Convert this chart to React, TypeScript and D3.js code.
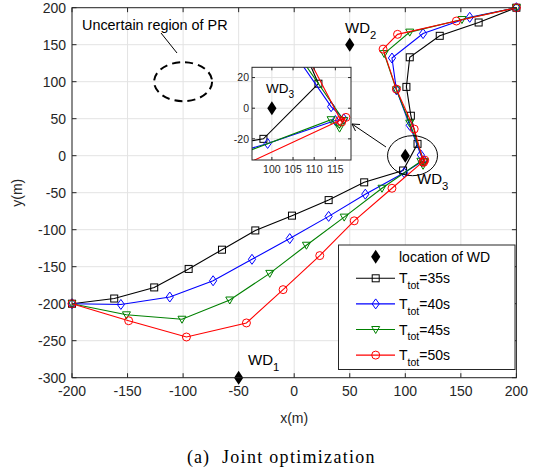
import * as d3 from 'd3'
import React from 'react'

// trajectories (x, y in metres) for each total time
const t35X = [-200, -162, -126, -95, -65, -35, -2, 31, 63, 98, 111, 105, 101, 104, 131, 166, 200]
const t35Y = [-200, -193, -178, -153, -127, -101, -81, -60, -36, -20, 16, 54, 93, 133, 162, 180, 200]
const t40X = [-200, -156, -112, -73, -38, -4, 31, 64, 99, 115, 117, 114, 104, 92, 88, 116, 158, 200]
const t40Y = [-200, -201, -191, -169, -140, -112, -82, -52, -23, -8, -7, 1, 41, 89, 132, 165, 187, 200]
const t45X = [-200, -151, -101, -58, -22, 11, 45, 79, 114, 116, 117, 104, 92, 81, 104, 151, 200]
const t45Y = [-200, -215, -221, -195, -159, -121, -83, -44, -7.5, -13, -8, 44, 89, 138, 167, 184, 200]
const t50X = [-200, -149, -97, -43, -10, 23, 54, 88, 116, 117.5, 116.5, 108, 92, 80, 93, 146, 200]
const t50Y = [-200, -223, -245, -226, -181, -135, -88, -44, -8, -6, -9, 36, 90, 144, 164, 182, 200]

const seriesLabels = ['35s', '40s', '45s', '50s']
const seriesColors = ['#000000', '#0000ff', '#008000', '#ff0000']
const seriesMarkers = ['square', 'diamond', 'triangle', 'circle']

// wireless devices
const wdX = [-50, 50, 100]
const wdY = [-300, 150, 0]
const wdNames = ['1', '2', '3']

const xTicks = [-200, -150, -100, -50, 0, 50, 100, 150, 200]
const yTicks = [-300, -250, -200, -150, -100, -50, 0, 50, 100, 150, 200]
const insetXTicks = [100, 105, 110, 115]
const insetYTicks = [-20, 0, 20]

const font = '"Liberation Sans", Arial, Helvetica, sans-serif'
const axisColor = '#262626'
const gridColor = '#e3e3e3'

const x = d3.scaleLinear().domain([-200, 200]).range([72, 516.4])
const y = d3.scaleLinear().domain([-300, 200]).range([377.7, 7.7])
const ix = d3.scaleLinear().domain([95.3, 118.7]).range([252, 351])
const iy = d3.scaleLinear().domain([-33.8, 26.7]).range([160, 67.3])

const series = [
    [t35X, t35Y],
    [t40X, t40Y],
    [t45X, t45Y],
    [t50X, t50Y],
].map(([xs, ys]) => xs.map((v, i) => [v, ys[i]] as [number, number]))

const Marker = (props: { type: string; cx: number; cy: number; color: string }) => {
    const { type, cx, cy, color } = props
    const common = { fill: 'none', stroke: color, strokeWidth: 1 }
    if (type === 'square') return <rect x={cx - 3.5} y={cy - 3.5} width={7} height={7} {...common} />
    if (type === 'diamond')
        return <path d={`M${cx},${cy - 5}L${cx + 3.6},${cy}L${cx},${cy + 5}L${cx - 3.6},${cy}Z`} {...common} />
    if (type === 'triangle')
        return <path d={`M${cx - 4},${cy - 3}L${cx + 4},${cy - 3}L${cx},${cy + 4}Z`} {...common} />
    return <circle cx={cx} cy={cy} r={4} {...common} />
}

const Diamond = (props: { cx: number; cy: number }) => (
    <path
        d={`M${props.cx},${props.cy - 7}L${props.cx + 4.6},${props.cy}L${props.cx},${props.cy + 7}L${props.cx - 4.6},${props.cy}Z`}
        fill="#000"
    />
)

const Sub = (props: { x: number; y: number; main: string; sub: string; rest?: string; size: number }) => (
    <text x={props.x} y={props.y} fontSize={props.size} fill="#000">
        {props.main}
        <tspan fontSize={props.size * 0.75} dy={props.size * 0.4}>
            {props.sub}
        </tspan>
        {props.rest ? <tspan dy={-props.size * 0.4}>{props.rest}</tspan> : null}
    </text>
)

const App = () => {
    const line = d3
        .line<[number, number]>()
        .x((d) => x(d[0]))
        .y((d) => y(d[1]))
    const iline = d3
        .line<[number, number]>()
        .x((d) => ix(d[0]))
        .y((d) => iy(d[1]))

    const [x0, x1] = x.range()
    const [y0, y1] = [y(200), y(-300)]
    const [ix0, ix1] = ix.range()
    const [iy1, iy0] = iy.range()

    return (
        <div style={{ position: 'absolute', left: 0, top: 0 }}>
            <svg width={536} height={470} style={{ display: 'block', fontFamily: font }}>
                <rect width={536} height={470} fill="#fff" />
                <defs>
                    <clipPath id="inset-clip">
                        <rect x={ix0} y={iy0} width={ix1 - ix0} height={iy1 - iy0} />
                    </clipPath>
                </defs>

                {/* grid */}
                {xTicks.map((t) => (
                    <line key={`gx${t}`} x1={x(t)} x2={x(t)} y1={y0} y2={y1} stroke={gridColor} />
                ))}
                {yTicks.map((t) => (
                    <line key={`gy${t}`} x1={x0} x2={x1} y1={y(t)} y2={y(t)} stroke={gridColor} />
                ))}

                {/* ticks inside the box */}
                {xTicks.map((t) => (
                    <g key={`tx${t}`} stroke={axisColor}>
                        <line x1={x(t)} x2={x(t)} y1={y1} y2={y1 - 4.5} />
                        <line x1={x(t)} x2={x(t)} y1={y0} y2={y0 + 4.5} />
                    </g>
                ))}
                {yTicks.map((t) => (
                    <g key={`ty${t}`} stroke={axisColor}>
                        <line x1={x0} x2={x0 + 4.5} y1={y(t)} y2={y(t)} />
                        <line x1={x1} x2={x1 - 4.5} y1={y(t)} y2={y(t)} />
                    </g>
                ))}

                {/* uncertain region of PR */}
                <ellipse
                    cx={x(-100)}
                    cy={y(100)}
                    rx={29}
                    ry={19.5}
                    fill="none"
                    stroke="#000"
                    strokeWidth={2}
                    strokeDasharray="8,5"
                />
                <line x1={161} y1={33} x2={177} y2={53} stroke="#000" />
                <text x={82} y={30} fontSize={14.4}>
                    Uncertain region of PR
                </text>

                {/* trajectories */}
                {series.map((pts, si) => (
                    <g key={`s${si}`}>
                        <path d={line(pts) || ''} fill="none" stroke={seriesColors[si]} strokeWidth={1.1} />
                        {pts.map((p, i) => (
                            <Marker
                                key={i}
                                type={seriesMarkers[si]}
                                cx={x(p[0])}
                                cy={y(p[1])}
                                color={seriesColors[si]}
                            />
                        ))}
                    </g>
                ))}

                {/* wireless devices */}
                {wdX.map((v, i) => (
                    <Diamond key={`wd${i}`} cx={x(v)} cy={y(wdY[i])} />
                ))}
                <Sub x={248} y={365} main="WD" sub={wdNames[0]} size={15} />
                <Sub x={345} y={33} main="WD" sub={wdNames[1]} size={15} />
                <Sub x={417} y={184} main="WD" sub={wdNames[2]} size={15} />

                {/* zoom circle and arrow */}
                <ellipse cx={x(106.5)} cy={y(0)} rx={25} ry={20} fill="none" stroke="#000" />
                <line x1={386} y1={147} x2={352} y2={124} stroke="#000" />
                <path d="M360,124.5L352,124L355.5,131" fill="none" stroke="#000" />

                {/* inset */}
                <rect x={ix0} y={iy0} width={ix1 - ix0} height={iy1 - iy0} fill="#fff" />
                {insetXTicks.map((t) => (
                    <line key={`igx${t}`} x1={ix(t)} x2={ix(t)} y1={iy0} y2={iy1} stroke={gridColor} />
                ))}
                {insetYTicks.map((t) => (
                    <line key={`igy${t}`} x1={ix0} x2={ix1} y1={iy(t)} y2={iy(t)} stroke={gridColor} />
                ))}
                <g clipPath="url(#inset-clip)">
                    {series.map((pts, si) => (
                        <g key={`is${si}`}>
                            <path d={iline(pts) || ''} fill="none" stroke={seriesColors[si]} strokeWidth={1.1} />
                            {pts.map((p, i) => (
                                <Marker
                                    key={i}
                                    type={seriesMarkers[si]}
                                    cx={ix(p[0])}
                                    cy={iy(p[1])}
                                    color={seriesColors[si]}
                                />
                            ))}
                        </g>
                    ))}
                    <Diamond cx={ix(wdX[2])} cy={iy(wdY[2])} />
                </g>
                <Sub x={266} y={93} main="WD" sub={wdNames[2]} size={13.5} />
                {insetXTicks.map((t) => (
                    <g key={`itx${t}`}>
                        <line x1={ix(t)} x2={ix(t)} y1={iy1} y2={iy1 - 3} stroke={axisColor} />
                        <line x1={ix(t)} x2={ix(t)} y1={iy0} y2={iy0 + 3} stroke={axisColor} />
                        <text x={ix(t)} y={173} fontSize={10.5} textAnchor="middle" fill={axisColor}>
                            {t}
                        </text>
                    </g>
                ))}
                {insetYTicks.map((t) => (
                    <g key={`ity${t}`}>
                        <line x1={ix0} x2={ix0 + 3} y1={iy(t)} y2={iy(t)} stroke={axisColor} />
                        <line x1={ix1} x2={ix1 - 3} y1={iy(t)} y2={iy(t)} stroke={axisColor} />
                        <text x={249} y={iy(t)} dy="0.35em" fontSize={10.5} textAnchor="end" fill={axisColor}>
                            {t}
                        </text>
                    </g>
                ))}
                <rect
                    x={ix0}
                    y={iy0}
                    width={ix1 - ix0}
                    height={iy1 - iy0}
                    fill="none"
                    stroke={axisColor}
                    strokeWidth={1}
                />

                {/* legend */}
                <rect x={338.5} y={245} width={176.5} height={124.5} fill="#fff" stroke={axisColor} />
                <Diamond cx={375.7} cy={256.7} />
                <text x={399} y={262} fontSize={14} fill="#000">
                    location of WD
                </text>
                {seriesLabels.map((lab, i) => {
                    const ly = 278.3 + i * 25.6
                    return (
                        <g key={`lg${i}`}>
                            <line x1={356} x2={395} y1={ly} y2={ly} stroke={seriesColors[i]} strokeWidth={1.1} />
                            <Marker type={seriesMarkers[i]} cx={375.7} cy={ly} color={seriesColors[i]} />
                            <Sub x={399} y={ly + 5} main="T" sub="tot" rest={`=${lab}`} size={14} />
                        </g>
                    )
                })}

                {/* box */}
                <rect x={x0} y={y0} width={x1 - x0} height={y1 - y0} fill="none" stroke={axisColor} />

                {/* tick labels */}
                {xTicks.map((t) => (
                    <text key={`lx${t}`} x={x(t)} y={396} fontSize={14} textAnchor="middle" fill={axisColor}>
                        {t}
                    </text>
                ))}
                {yTicks.map((t) => (
                    <text
                        key={`ly${t}`}
                        x={66}
                        y={y(t)}
                        dy="0.35em"
                        fontSize={14}
                        textAnchor="end"
                        fill={axisColor}
                    >
                        {t}
                    </text>
                ))}
                <text x={x(0)} y={423} fontSize={14} textAnchor="middle" fill={axisColor}>
                    x(m)
                </text>
                <text
                    transform={`translate(22,${y(-50)}) rotate(-90)`}
                    fontSize={14}
                    textAnchor="middle"
                    fill={axisColor}
                >
                    y(m)
                </text>
                <text
                    y={463}
                    fontSize={18}
                    fill="#000"
                    style={{ fontFamily: '"Liberation Serif", "Times New Roman", serif' }}
                >
                    <tspan x={187} letterSpacing={1}>
                        (a)
                    </tspan>
                    <tspan x={222} letterSpacing={1.3}>
                        Joint optimization
                    </tspan>
                </text>
            </svg>
        </div>
    )
}

export default App
